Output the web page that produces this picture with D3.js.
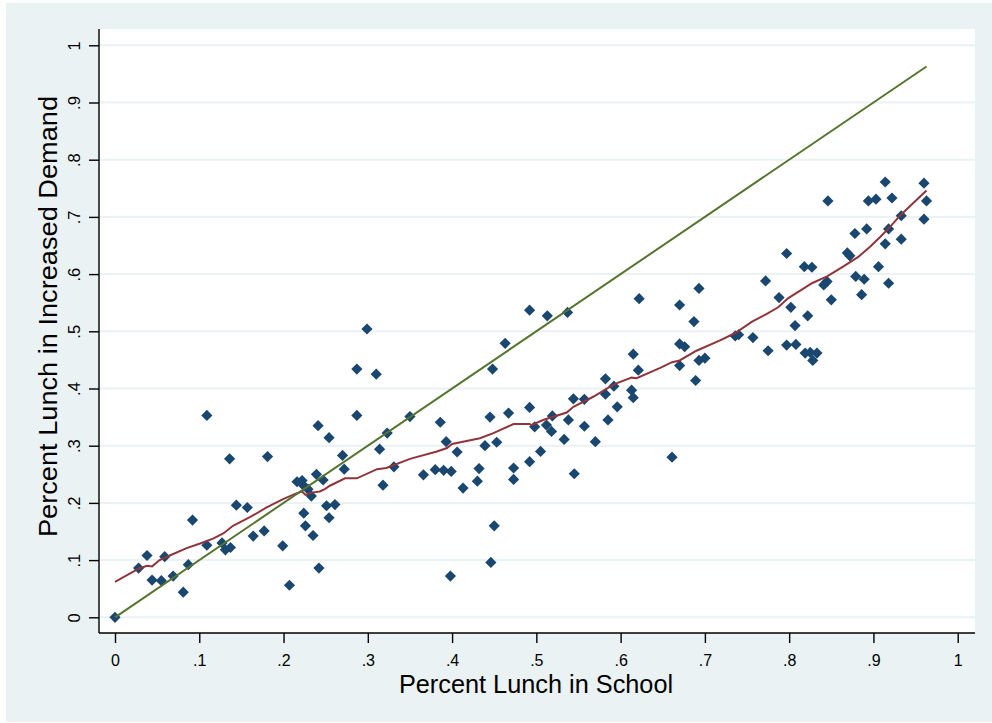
<!DOCTYPE html>
<html>
<head>
<meta charset="utf-8">
<script src="https://cdn.jsdelivr.net/npm/d3@7/dist/d3.min.js"></script>
<style>
  html, body { margin: 0; padding: 0; background: #ffffff; }
  svg { display: block; }
  text { font-family: "Liberation Sans", Arial, sans-serif; fill: #000; }
</style>
</head>
<body>
<svg id="chart" width="992" height="723"></svg>
<script>
// Share of students eating school lunch vs. share in the increased-demand scenario
const pctSchool = [
  0.000, 0.028, 0.038, 0.044, 0.055, 0.059, 0.069, 0.081, 0.087, 0.092,
  0.109, 0.109, 0.127, 0.131, 0.137, 0.136, 0.144, 0.157, 0.164, 0.177,
  0.181, 0.199, 0.207, 0.216, 0.222, 0.224, 0.229, 0.233, 0.224, 0.226,
  0.235, 0.239, 0.241, 0.242, 0.247, 0.251, 0.254, 0.254, 0.261, 0.270,
  0.272, 0.287, 0.287, 0.299, 0.310, 0.314, 0.323, 0.318, 0.331, 0.350,
  0.366, 0.380, 0.386, 0.390, 0.393, 0.399, 0.398, 0.406, 0.413, 0.430,
  0.432, 0.439, 0.445, 0.446, 0.448, 0.450, 0.453, 0.463, 0.467, 0.473,
  0.473, 0.492, 0.492, 0.492, 0.498, 0.505, 0.512, 0.513, 0.519, 0.518,
  0.533, 0.537, 0.538, 0.544, 0.545, 0.557, 0.557, 0.570, 0.582, 0.582,
  0.585, 0.592, 0.596, 0.613, 0.615, 0.615, 0.621, 0.622, 0.661, 0.670,
  0.670, 0.676, 0.670, 0.687, 0.693, 0.693, 0.700, 0.689, 0.736, 0.740,
  0.757, 0.772, 0.775, 0.788, 0.797, 0.797, 0.802, 0.807, 0.808, 0.818,
  0.827, 0.822, 0.819, 0.825, 0.833, 0.828, 0.841, 0.845, 0.846, 0.850,
  0.869, 0.872, 0.878, 0.879, 0.886, 0.889, 0.892, 0.894, 0.903, 0.906,
  0.914, 0.918, 0.918, 0.914, 0.922, 0.933, 0.933, 0.960, 0.963, 0.960
];
const pctDemand = [
  0.000, 0.086, 0.108, 0.065, 0.064, 0.106, 0.072, 0.044, 0.092, 0.170,
  0.353, 0.126, 0.130, 0.118, 0.122, 0.277, 0.196, 0.192, 0.142, 0.151,
  0.281, 0.125, 0.056, 0.237, 0.239, 0.230, 0.224, 0.212, 0.182, 0.160,
  0.143, 0.250, 0.335, 0.086, 0.240, 0.195, 0.174, 0.314, 0.197, 0.283,
  0.259, 0.353, 0.434, 0.504, 0.425, 0.294, 0.322, 0.231, 0.263, 0.351,
  0.249, 0.258, 0.341, 0.257, 0.307, 0.255, 0.072, 0.289, 0.226, 0.238,
  0.260, 0.300, 0.350, 0.096, 0.434, 0.160, 0.306, 0.479, 0.357, 0.261,
  0.241, 0.272, 0.367, 0.537, 0.333, 0.290, 0.336, 0.527, 0.352, 0.325,
  0.311, 0.533, 0.345, 0.382, 0.251, 0.334, 0.381, 0.307, 0.417, 0.390,
  0.345, 0.404, 0.368, 0.397, 0.384, 0.460, 0.432, 0.557, 0.280, 0.546,
  0.478, 0.473, 0.440, 0.517, 0.575, 0.449, 0.453, 0.414, 0.492, 0.494,
  0.489, 0.588, 0.466, 0.559, 0.636, 0.476, 0.542, 0.510, 0.477, 0.613,
  0.612, 0.527, 0.462, 0.463, 0.462, 0.449, 0.581, 0.587, 0.728, 0.555,
  0.637, 0.632, 0.671, 0.596, 0.564, 0.591, 0.679, 0.728, 0.731, 0.613,
  0.653, 0.679, 0.584, 0.761, 0.733, 0.702, 0.661, 0.759, 0.728, 0.696
];

// Lowess smooth of demand on school share
const lowessX = [
  0.000, 0.028, 0.038, 0.044, 0.053, 0.065, 0.085, 0.101, 0.117, 0.129,
  0.140, 0.160, 0.180, 0.200, 0.216, 0.222, 0.226, 0.233, 0.243, 0.249,
  0.255, 0.273, 0.287, 0.311, 0.322, 0.350, 0.382, 0.394, 0.400, 0.433,
  0.449, 0.473, 0.492, 0.494, 0.508, 0.536, 0.544, 0.568, 0.587, 0.595,
  0.613, 0.619, 0.647, 0.661, 0.670, 0.690, 0.718, 0.736, 0.756, 0.773,
  0.787, 0.799, 0.815, 0.827, 0.845, 0.864, 0.882, 0.896, 0.908, 0.920,
  0.932, 0.947, 0.963
];
const lowessY = [
  0.062, 0.085, 0.090, 0.089, 0.100, 0.108, 0.121, 0.129, 0.138, 0.147,
  0.160, 0.175, 0.192, 0.207, 0.217, 0.220, 0.214, 0.218, 0.220, 0.224,
  0.230, 0.243, 0.243, 0.259, 0.261, 0.277, 0.290, 0.296, 0.303, 0.313,
  0.322, 0.338, 0.338, 0.336, 0.345, 0.358, 0.368, 0.386, 0.403, 0.409,
  0.419, 0.418, 0.436, 0.446, 0.449, 0.466, 0.484, 0.497, 0.517, 0.530,
  0.542, 0.558, 0.573, 0.584, 0.596, 0.613, 0.630, 0.648, 0.665, 0.683,
  0.703, 0.724, 0.746
];

const xTicks = [0, 0.1, 0.2, 0.3, 0.4, 0.5, 0.6, 0.7, 0.8, 0.9, 1];
const yTicks = [0, 0.1, 0.2, 0.3, 0.4, 0.5, 0.6, 0.7, 0.8, 0.9, 1];
const tickLabels = ["0", ".1", ".2", ".3", ".4", ".5", ".6", ".7", ".8", ".9", "1"];

const xTitle = "Percent Lunch in School";
const yTitle = "Percent Lunch in Increased Demand";

const W = 992, H = 723;
const plot = { left: 99, right: 975, top: 29, bottom: 633 };

const x = d3.scaleLinear().domain([0, 1]).range([115, 957.7]);
const y = d3.scaleLinear().domain([0, 1]).range([617.3, 45.3]);

const navy = "#1a476f", maroon = "#90353b", forest = "#55752f";
const bg = "#eaf2f3";

const svg = d3.select("#chart");

// Outer graph region
svg.append("rect")
  .attr("x", 6).attr("y", 3).attr("width", W - 6).attr("height", H - 4)
  .attr("fill", bg);

// Plot region
svg.append("rect")
  .attr("x", plot.left).attr("y", plot.top)
  .attr("width", plot.right - plot.left).attr("height", plot.bottom - plot.top)
  .attr("fill", "#ffffff");

// Horizontal gridlines
svg.append("g").selectAll("line").data(yTicks).join("line")
  .attr("x1", plot.left).attr("x2", plot.right)
  .attr("y1", d => y(d)).attr("y2", d => y(d))
  .attr("stroke", bg).attr("stroke-width", 2);

// Axes
const fmt = d => tickLabels[yTicks.indexOf(d)];

const yAxis = svg.append("g")
  .attr("transform", `translate(${plot.left},0)`)
  .call(d3.axisLeft(y).tickValues(yTicks).tickFormat(fmt).tickSize(10).tickSizeOuter(0));
yAxis.select(".domain").attr("d", `M0,${plot.top}V${plot.bottom}`);
yAxis.selectAll(".tick text")
  .attr("x", 0).attr("y", 0).attr("dy", null)
  .attr("text-anchor", "middle")
  .attr("transform", "translate(-19,0) rotate(-90)")
  .style("font-size", "16.5px");

const xAxis = svg.append("g")
  .attr("transform", `translate(0,${plot.bottom})`)
  .call(d3.axisBottom(x).tickValues(xTicks).tickFormat(d => tickLabels[xTicks.indexOf(d)]).tickSize(10).tickSizeOuter(0));
xAxis.select(".domain").attr("d", `M${plot.left},0H${plot.right}`);
xAxis.selectAll(".tick text")
  .attr("y", 33).attr("dy", null)
  .style("font-size", "16px");

[yAxis, xAxis].forEach(g => {
  g.attr("font-family", null).attr("font-size", null);
  g.selectAll(".domain, .tick line").attr("stroke", "#000").attr("stroke-width", 1.4);
  g.selectAll(".tick text").attr("fill", "#000");
});

// Scatter markers (diamonds)
const r = 5.6;
const diamond = `M0,${-r}L${r},0L0,${r}L${-r},0Z`;
svg.append("g").selectAll("path").data(d3.range(pctSchool.length)).join("path")
  .attr("d", diamond)
  .attr("transform", i => `translate(${x(pctSchool[i])},${y(pctDemand[i])})`)
  .attr("fill", navy);

// Lowess line
svg.append("path")
  .datum(d3.range(lowessX.length))
  .attr("d", d3.line().x(i => x(lowessX[i])).y(i => y(lowessY[i])))
  .attr("fill", "none").attr("stroke", maroon).attr("stroke-width", 2);

// 45-degree reference line over the observed range
const xMax = d3.max(pctSchool);
svg.append("path")
  .datum([0, xMax])
  .attr("d", d3.line().x(d => x(d)).y(d => y(d)))
  .attr("fill", "none").attr("stroke", forest).attr("stroke-width", 2);

// Axis titles
svg.append("text")
  .attr("x", 536).attr("y", 693)
  .attr("text-anchor", "middle")
  .style("font-size", "25.3px")
  .text(xTitle);

svg.append("text")
  .attr("transform", `translate(57,316.5) rotate(-90)`)
  .attr("text-anchor", "middle")
  .attr("textLength", 441)
  .attr("lengthAdjust", "spacingAndGlyphs")
  .style("font-size", "25.5px")
  .text(yTitle);
</script>
</body>
</html>
